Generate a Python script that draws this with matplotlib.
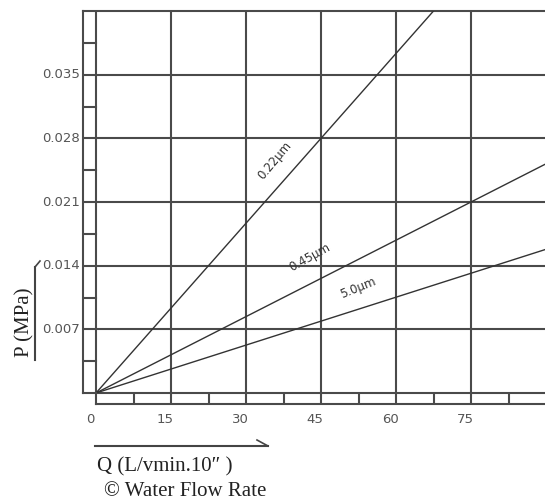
import matplotlib
matplotlib.use("Agg")
import matplotlib.pyplot as plt
from matplotlib.lines import Line2D
import numpy as np

# ---- data ----
q_ends = [0, 90]                       # flow rate endpoints
p_022 = [0, 0.0560]                     # 0.22 um filter
p_045 = [0, 0.0252]                     # 0.45 um filter
p_50 = [0, 0.0158]                      # 5.0 um filter
series_labels = ["0.22\u03bcm", "0.45\u03bcm", "5.0\u03bcm"]
x_ticks = [0, 15, 30, 45, 60, 75]
y_ticks = [0.007, 0.014, 0.021, 0.028, 0.035]
y_tick_labels = ["0.007", "0.014", "0.021", "0.028", "0.035"]

W, H = 545, 503
fig = plt.figure(figsize=(W / 100, H / 100), dpi=100)
fig.patch.set_facecolor("white")

def fx(px):
    return px / W

def fy(py):
    return 1 - py / H

grid_c = "#4a4a4a"
line_c = "#333333"
text_c = "#555555"

# main axes
ax = fig.add_axes([fx(83), fy(393), fx(545) - fx(83), fy(11) - fy(393)])
ax.set_xlim(-2.6, 89.8)
ax.set_ylim(0, 0.042)
ax.set_xticks([])
ax.set_yticks([])
for s in ["left", "top", "bottom"]:
    ax.spines[s].set_color(grid_c)
    ax.spines[s].set_linewidth(1.5)
ax.spines["right"].set_visible(False)

for xv in x_ticks:
    ax.axvline(xv, color=grid_c, lw=1.5, zorder=1)
for yv in y_ticks:
    ax.axhline(yv, color=grid_c, lw=1.5, zorder=1)
# minor y ticks in the left strip
for yv in list(np.array(y_ticks) - 0.0035) + [0.0385]:
    ax.plot([-2.6, 0], [yv, yv], color=grid_c, lw=1.5, zorder=1)

# series lines
for p in (p_022, p_045, p_50):
    ax.plot(q_ends, p, color=line_c, lw=1.0, zorder=3)

# y tick labels
for yv, lab in zip(y_ticks, y_tick_labels):
    ax.text(-3.2, yv, lab, ha="right", va="center", fontsize=9.5,
            color=text_c, family="DejaVu Sans")

# series labels
lab_pos = [(35.8, 0.0256, 50), (42.8, 0.0149, 29), (52.4, 0.0115, 22)]
for (lx, ly, rot), lab in zip(lab_pos, series_labels):
    ax.text(lx, ly, lab, ha="center", va="center", rotation=rot,
            fontsize=8.5, color="#333333", rotation_mode="anchor",
            family="DejaVu Sans")

# bottom x strip
sx = fig.add_axes([fx(96), fy(404), fx(545) - fx(96), fy(393) - fy(404)])
sx.set_xlim(0, 89.8)
sx.set_ylim(0, 1)
sx.set_xticks([])
sx.set_yticks([])
sx.patch.set_alpha(0)
for s in ["left", "bottom"]:
    sx.spines[s].set_color(grid_c)
    sx.spines[s].set_linewidth(1.5)
sx.spines["right"].set_visible(False)
sx.spines["top"].set_visible(False)
for xv in np.arange(7.5, 89.8, 7.5):
    sx.axvline(xv, color=grid_c, lw=1.5)

for xv in x_ticks:
    ax.text(xv - 1.2, -0.0029, str(xv), ha="center", va="center",
            fontsize=9.5, color=text_c, family="DejaVu Sans", clip_on=False)

# axis labels
fig.text(fx(25), fy(322), "P (MPa)", rotation=90, ha="center", va="center",
         fontsize=15, family="Liberation Serif", color="#222222")
fig.text(fx(97), fy(467), "Q (L/vmin.10\u2033 )", ha="left", va="center",
         fontsize=15, family="Liberation Serif", color="#222222")
fig.text(fx(104), fy(491), "\u00a9 Water Flow Rate", ha="left", va="center",
         fontsize=15, family="Liberation Serif", color="#222222")

# arrows
fig.add_artist(Line2D([fx(95), fx(268)], [fy(446), fy(446)], color="#444444", lw=1.5))
fig.add_artist(Line2D([fx(257), fx(268)], [fy(440), fy(446)], color="#444444", lw=1.2))
fig.add_artist(Line2D([fx(35), fx(35)], [fy(360), fy(267)], color="#444444", lw=1.5))
fig.add_artist(Line2D([fx(35), fx(40)], [fy(267), fy(261)], color="#444444", lw=1.2))

fig.savefig("out.png", dpi=100, facecolor="white")
